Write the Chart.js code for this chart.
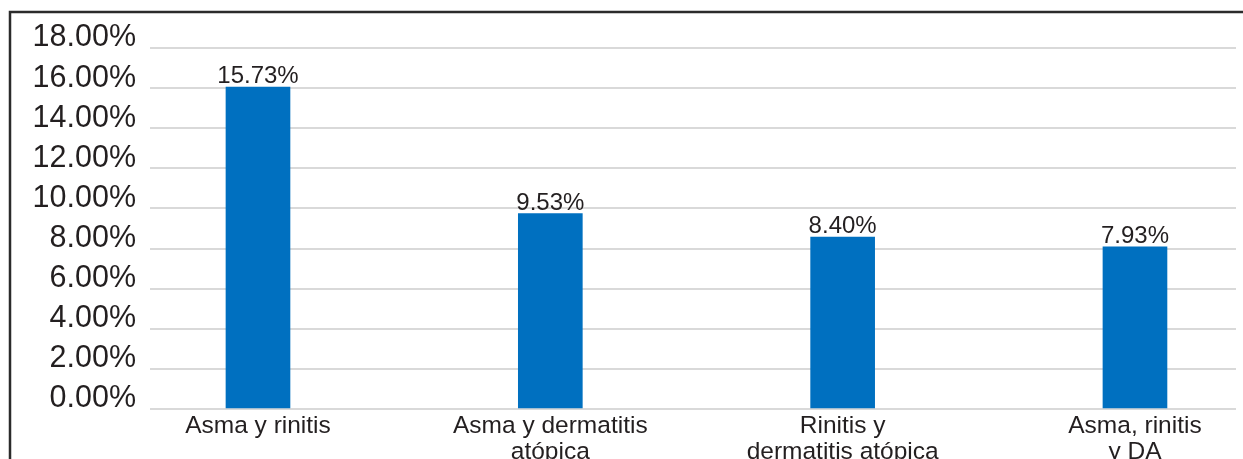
<!DOCTYPE html>
<html lang="es">
<head>
  <meta charset="utf-8">
  <title>Comorbilidades</title>
  <script src="https://cdn.jsdelivr.net/npm/chart.js"></script>
  <style>
    html, body { margin: 0; padding: 0; background: #fff; }
    #wrap { width: 1243px; height: 459px; }
  </style>
</head>
<body>
  <div id="wrap">
    <canvas id="myChart" width="1243" height="459"></canvas>
  </div>

<script>
  // categorias (una entrada por linea del rotulo)
  var categorias = [
    ['Asma y rinitis'],
    ['Asma y dermatitis', 'atópica'],
    ['Rinitis y', 'dermatitis atópica'],
    ['Asma, rinitis', 'y DA']
  ];
  // altura de las barras tal como se ve en la imagen (%)
  var alturas = [16.05, 9.74, 8.57, 8.08];
  // rotulos impresos encima de cada barra
  var rotulos = ['15.73%', '9.53%', '8.40%', '7.93%'];
  // marcas del eje y
  var yMin = 0, yMax = 18, yPaso = 2;

  var texto = '#231f20';
  var fuente = "'Liberation Sans', Arial, sans-serif";

  var puntos = alturas.map(function (v, i) { return { x: i, y: v }; });

  // marco superior e izquierdo
  var marco = {
    id: 'marco',
    afterDraw: function (chart) {
      var ctx = chart.ctx;
      ctx.save();
      ctx.strokeStyle = '#2b2b2b';
      ctx.lineWidth = 2.5;
      ctx.beginPath();
      ctx.moveTo(10, 459);
      ctx.lineTo(10, 12);
      ctx.lineTo(1243, 12);
      ctx.stroke();
      ctx.restore();
    }
  };

  // rotulos de valor sobre las barras
  var etiquetas = {
    id: 'etiquetas',
    afterDatasetsDraw: function (chart) {
      var ctx = chart.ctx;
      var meta = chart.getDatasetMeta(0);
      ctx.save();
      ctx.fillStyle = texto;
      ctx.font = '24px ' + fuente;
      ctx.textAlign = 'center';
      ctx.textBaseline = 'alphabetic';
      meta.data.forEach(function (bar, i) {
        ctx.fillText(rotulos[i], bar.x, bar.y - 4);
      });
      ctx.restore();
    }
  };

  var ctx = document.getElementById('myChart').getContext('2d');
  var myChart = new Chart(ctx, {
    type: 'bar',
    data: {
      datasets: [{
        data: puntos,
        backgroundColor: '#0070c0',
        borderWidth: 0,
        barThickness: 64
      }]
    },
    options: {
      responsive: false,
      animation: false,
      events: [],
      layout: { padding: { top: 48, left: 0, right: 7, bottom: 0 } },
      plugins: {
        legend: { display: false },
        tooltip: { enabled: false }
      },
      scales: {
        x: {
          type: 'linear',
          offset: false,
          min: -0.3694,
          max: 3.3456,
          grid: { display: false },
          border: { display: false },
          afterFit: function (scale) { scale.height = 50; },
          ticks: {
            stepSize: 1,
            includeBounds: false,
            autoSkip: false,
            maxRotation: 0,
            padding: -4,
            color: texto,
            font: { family: fuente, size: 24.5, lineHeight: 1.08 },
            callback: function (v) { return categorias[v] || ''; }
          }
        },
        y: {
          min: yMin,
          max: yMax,
          grid: { color: '#d9d9d9', lineWidth: 2, drawTicks: false },
          border: { display: false },
          afterFit: function (scale) { scale.width = 150; },
          ticks: {
            stepSize: yPaso,
            padding: 14,
            labelOffset: -10,
            color: texto,
            font: { family: fuente, size: 30.5 },
            callback: function (v) { return v.toFixed(2) + '%'; }
          }
        }
      }
    },
    plugins: [marco, etiquetas]
  });
</script>
</body>
</html>
